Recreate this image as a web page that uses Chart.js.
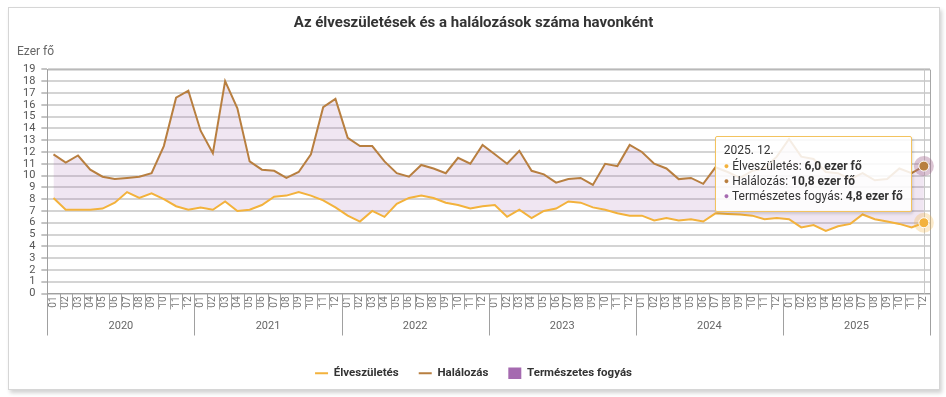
<!DOCTYPE html>
<html><head><meta charset="utf-8">
<script src="https://cdn.jsdelivr.net/npm/chart.js@4"></script>
<style>
html,body{margin:0;padding:0;background:#fff;}
#card{position:absolute;left:8px;top:7px;width:930px;height:381px;border:1px solid #d6d6d6;box-shadow:2px 3px 4px rgba(0,0,0,0.18);background:#fff;}
#card canvas{position:absolute;left:0;top:0;}
#tip{position:absolute;display:none;background:rgba(255,255,255,0.86);border:1px solid #f3c35f;box-shadow:1px 2px 3px rgba(0,0,0,0.15);font-family:Roboto,sans-serif;font-size:12px;color:#333;padding:6px 8px 7px 8px;line-height:15px;white-space:nowrap;pointer-events:none;border-radius:2px;}
#tip .t{margin-bottom:1px;}
#tip .dot{font-size:9px;vertical-align:1px;}
</style></head><body>
<div id="card"><canvas id="c" width="930" height="381"></canvas><div id="tip"></div></div>
<script>
const years = ['2020','2021','2022','2023','2024','2025'];
const months = ['01','02','03','04','05','06','07','08','09','10','11','12'];
const yTicks = [0,1,2,3,4,5,6,7,8,9,10,11,12,13,14,15,16,17,18,19];
const births = [
  8.1, 7.1, 7.1, 7.1, 7.2, 7.7, 8.6, 8.1, 8.5, 8.0, 7.4, 7.1,
  7.3, 7.1, 7.8, 7.0, 7.1, 7.5, 8.2, 8.3, 8.6, 8.3, 7.9, 7.3,
  6.6, 6.1, 7.0, 6.5, 7.6, 8.1, 8.3, 8.1, 7.7, 7.5, 7.2, 7.4,
  7.5, 6.5, 7.1, 6.4, 7.0, 7.2, 7.8, 7.7, 7.3, 7.1, 6.8, 6.6,
  6.6, 6.2, 6.4, 6.2, 6.3, 6.1, 6.8, 6.75, 6.7, 6.6, 6.3, 6.4,
  6.3, 5.6, 5.8, 5.3, 5.7, 5.9, 6.7, 6.3, 6.1, 5.9, 5.6, 6.0
];
const deaths = [
  11.8, 11.1, 11.7, 10.5, 9.9, 9.7, 9.8, 9.9, 10.2, 12.5, 16.6, 17.2,
  13.8, 11.9, 18.0, 15.7, 11.2, 10.5, 10.4, 9.8, 10.3, 11.8, 15.8, 16.5,
  13.2, 12.5, 12.5, 11.2, 10.2, 9.9, 10.9, 10.6, 10.2, 11.5, 11.0, 12.6,
  11.8, 11.0, 12.1, 10.4, 10.1, 9.4, 9.7, 9.8, 9.2, 11.0, 10.8, 12.6,
  12.0, 11.0, 10.6, 9.7, 9.8, 9.3, 10.7, 10.3, 9.8, 10.4, 10.6, 11.6,
  13.1, 11.6, 11.4, 10.3, 10.2, 9.7, 10.2, 9.6, 9.7, 10.6, 10.2, 10.8
];
const seriesNames = ['Élveszületés', 'Halálozás', 'Természetes fogyás'];
const titleText = 'Az élveszületések és a halálozások száma havonként';
const unitLabel = 'Ezer fő';
const valueUnit = 'ezer fő';

const colBirth = '#f3b23c';
const colDeath = '#b87f40';
const colNat = '#a56ab0';
const fillNat = 'rgba(165,106,176,0.17)';
const axisGray = '#a0a0a0';

const labels = [];
years.forEach(y => months.forEach(m => labels.push(m)));

Chart.defaults.font.family = 'Roboto, sans-serif';
Chart.defaults.color = '#666';

const fmt = v => v.toFixed(1).replace('.', ',');

const framePlugin = {
  id: 'frame',
  beforeDatasetsDraw(chart) {
    const a = chart.chartArea, c = chart.ctx;
    c.save();
    c.strokeStyle = '#a8a8a8'; c.lineWidth = 1;
    c.beginPath();
    c.moveTo(a.left, a.top + 0.5); c.lineTo(a.right + 0.5, a.top + 0.5); c.lineTo(a.right + 0.5, a.bottom);
    c.stroke();
    const act = chart.getActiveElements();
    if (act.length) {
      const x = Math.round(act[0].element.x) + 0.5;
      c.strokeStyle = '#c8c8c8';
      c.beginPath(); c.moveTo(x, a.top); c.lineTo(x, a.bottom); c.stroke();
    }
    c.restore();
  },
  afterDatasetsDraw(chart) {
    const c = chart.ctx;
    const halo = ['rgba(243,178,60,0.28)', 'rgba(160,100,140,0.38)'];
    const cols = [colBirth, colDeath];
    chart.getActiveElements().forEach(a => {
      if (a.datasetIndex > 1) return;
      const e = a.element;
      c.save();
      c.fillStyle = halo[a.datasetIndex];
      c.beginPath(); c.arc(e.x, e.y, 10, 0, Math.PI * 2); c.fill();
      c.fillStyle = cols[a.datasetIndex];
      c.strokeStyle = '#fff'; c.lineWidth = 1;
      c.beginPath(); c.arc(e.x, e.y, 5, 0, Math.PI * 2); c.fill(); c.stroke();
      c.restore();
    });
  },
  afterDraw(chart) {
    // month / year separator ticks under the category axis
    const xs = chart.scales.x, c = chart.ctx;
    const n = labels.length;
    const w = (xs.right - xs.left) / n;
    c.save();
    c.strokeStyle = axisGray; c.lineWidth = 1;
    for (let i = 0; i <= n; i++) {
      const px = Math.round(xs.left + i * w) + 0.5;
      const len = (i % months.length === 0) ? 42 : 16;
      c.beginPath(); c.moveTo(px, xs.top); c.lineTo(px, xs.top + len); c.stroke();
    }
    c.restore();
  }
};

function externalTip(ctx) {
  const { tooltip } = ctx;
  const el = document.getElementById('tip');
  if (!tooltip || tooltip.opacity === 0 || !tooltip.dataPoints || !tooltip.dataPoints.length) { el.style.display = 'none'; return; }
  const i = tooltip.dataPoints[0].dataIndex;
  const vals = [births[i], deaths[i], deaths[i] - births[i]];
  const cols = [colBirth, colDeath, colNat];
  let html = '<div class="t">' + years[Math.floor(i / 12)] + '. ' + months[i % 12] + '.</div>';
  for (let k = 0; k < 3; k++) {
    html += '<div><span class="dot" style="color:' + cols[k] + '">●</span> ' + seriesNames[k] + ': <b>' + fmt(vals[k]) + ' ' + valueUnit + '</b></div>';
  }
  el.innerHTML = html;
  el.style.display = 'block';
  const w = el.offsetWidth;
  const dp = tooltip.dataPoints.find(d => d.datasetIndex === 1).element;
  el.style.left = (tooltip.caretX - w - 12) + 'px';
  el.style.top = (dp.y - 30) + 'px';
}

const chart = new Chart(document.getElementById('c'), {
  type: 'line',
  data: {
    labels: labels,
    datasets: [
      { label: seriesNames[0], data: births, borderColor: colBirth, backgroundColor: colBirth, borderWidth: 2, pointRadius: 0, pointHoverRadius: 0, fill: false, tension: 0 },
      { label: seriesNames[1], data: deaths, borderColor: colDeath, backgroundColor: colDeath, borderWidth: 2, pointRadius: 0, pointHoverRadius: 0, fill: false, tension: 0 },
      { label: seriesNames[2], data: deaths, borderColor: 'rgba(0,0,0,0)', backgroundColor: fillNat, borderWidth: 0, pointRadius: 0, pointHoverRadius: 0, fill: '-2', tension: 0 }
    ]
  },
  options: {
    responsive: false,
    animation: false,
    events: [],
    interaction: { mode: 'index', intersect: false },
    layout: { padding: { left: 8, right: 9, top: 0, bottom: 0 } },
    scales: {
      x: {
        type: 'category',
        offset: true,
        grid: { offset: true, drawOnChartArea: false, drawTicks: false, color: axisGray },
        border: { color: axisGray },
        ticks: { autoSkip: false, maxRotation: 90, minRotation: 90, padding: 3, font: { size: 10 }, color: '#777' },
        afterFit(s) { s.height = 16; }
      },
      x2: {
        type: 'category',
        labels: years,
        position: 'bottom',
        offset: true,
        grid: { display: false, drawTicks: false },
        border: { display: false },
        ticks: { autoSkip: false, maxRotation: 0, padding: 10, font: { size: 11 }, color: '#666' },
        afterFit(s) { s.height = 38; }
      },
      y: {
        min: 0, max: 19,
        afterBuildTicks(s) { s.ticks = yTicks.map(v => ({ value: v })); },
        ticks: { autoSkip: false, font: { size: 11 }, color: '#555', padding: 6 },
        grid: { color: '#d4d4d4', lineWidth: 2, tickLength: 6, tickColor: '#888', tickWidth: 1 },
        border: { color: axisGray }
      }
    },
    plugins: {
      title: { display: true, text: titleText, color: '#333', font: { size: 15, weight: 'bold' }, padding: { top: 6, bottom: 13 } },
      subtitle: { display: true, text: unitLabel, align: 'start', color: '#666', font: { size: 12, weight: 'normal' }, padding: { top: 0, bottom: 10 } },
      legend: {
        position: 'bottom',
        labels: {
          usePointStyle: true,
          pointStyleWidth: 13,
          padding: 20,
          color: '#333',
          font: { size: 11.5, weight: 'bold' },
          generateLabels() {
            return [
              { text: seriesNames[0], pointStyle: 'line', strokeStyle: colBirth, fillStyle: colBirth, lineWidth: 2, datasetIndex: 0, fontColor: '#333' },
              { text: seriesNames[1], pointStyle: 'line', strokeStyle: colDeath, fillStyle: colDeath, lineWidth: 2, datasetIndex: 1, fontColor: '#333' },
              { text: seriesNames[2], pointStyle: 'rect', strokeStyle: colNat, fillStyle: colNat, lineWidth: 0, datasetIndex: 2, fontColor: '#333' }
            ];
          }
        }
      },
      tooltip: { enabled: false, external: externalTip }
    }
  },
  plugins: [framePlugin]
});

const idx = births.length - 1;
const act = [0, 1, 2].map(d => ({ datasetIndex: d, index: idx }));
chart.setActiveElements(act);
const m = chart.getDatasetMeta(1).data[idx];
chart.tooltip.setActiveElements(act, { x: m.x, y: m.y });
chart.update();
</script>
</body></html>
